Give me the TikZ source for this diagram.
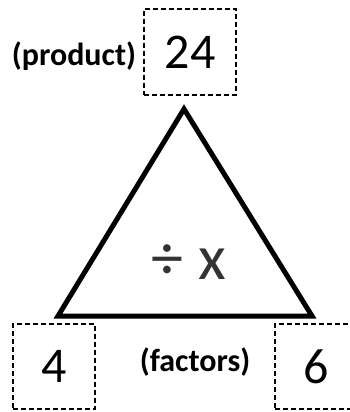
\documentclass[tikz,border=0pt]{standalone}
\usepackage{fontspec}
\setmainfont{Carlito}
\usetikzlibrary{calc,positioning}

\tikzset{
  numbox/.style={draw, dashed, line width=1.8pt, dash pattern=on 5pt off 3pt, font=\fontsize{50}{50}\selectfont},
  tag/.style={font=\bfseries\fontsize{32}{32}\selectfont}
}

\begin{document}
\begin{tikzpicture}[line join=miter, x=1pt, y=-1pt]
  \useasboundingbox (0,0) rectangle (349,412);
  % --- number boxes ---
  \node[numbox, minimum width=92pt, minimum height=86pt] (top) at (190,52) {24};
  \node[numbox, minimum width=82pt, minimum height=85pt] (left) at (54,366.5) {4};
  \node[numbox, minimum width=82pt, minimum height=85pt] (right) at (316,366.5) {6};
  % --- labels ---
  \node[tag] (product) at (74,56) {(product)};
  \node[tag] (factors) at (195,362) {(factors)};
  % --- triangle ---
  \coordinate (A) at (58,316);
  \coordinate (B) at (312,316);
  \coordinate (C) at (184,109);
  \draw[line width=5pt] (A) -- (B) -- (C) -- cycle;
  \node[text=black!80, font=\fontsize{64}{64}\selectfont] (ops) at (189,262) {÷ x};
\end{tikzpicture}
\end{document}
